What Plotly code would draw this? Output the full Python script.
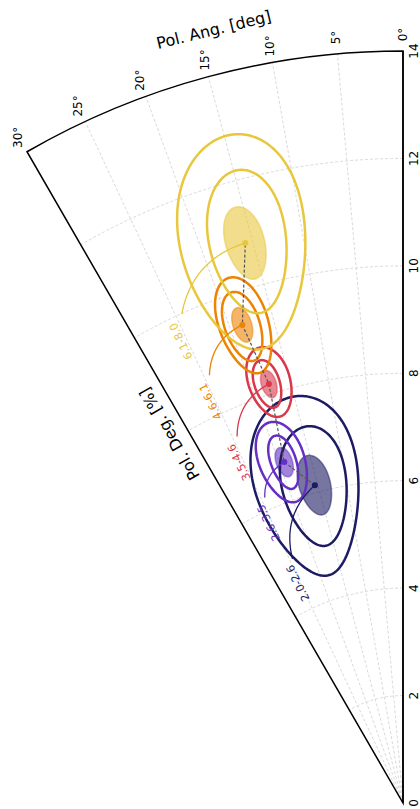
import numpy as np
import plotly.graph_objects as go

# ---- data -------------------------------------------------------------
bins = ["2.0-2.6", "2.6-3.5", "3.5-4.6", "4.6-6.1", "6.1-8.0"]
colors = ["#1c1b63", "#652fc4", "#d9384b", "#ec8305", "#e8c73d"]

# best-fit polarization degree [%] and angle [deg] per energy bin
pd_best = [6.14, 6.72, 8.19, 9.39, 10.83]
pa_best = [15.5, 19.2, 17.75, 18.57, 15.73]
# 1-sigma uncertainties
pd_sig = [0.57, 0.285, 0.263, 0.335, 0.695]
pa_sig = [2.73, 1.28, 0.97, 1.06, 1.91]

# inner confidence contour: centre PD, centre PA, half-widths, PD-PA correlation
c1_pd = [6.12, 6.72, 8.20, 9.36, 10.84]
c1_pa = [15.6, 19.3, 17.95, 18.6, 15.45]
c1_dpd = [1.12, 0.52, 0.46, 0.67, 1.34]
c1_dpa = [5.7, 2.0, 1.65, 2.0, 3.85]
c1_rho = [-0.15, 0.0, 0.0, 0.0, -0.15]
# outer confidence contour
c2_pd = [6.15, 6.73, 8.22, 9.37, 10.85]
c2_pa = [16.75, 19.5, 17.6, 18.4, 15.9]
c2_dpd = [1.69, 0.78, 0.67, 0.93, 2.0]
c2_dpa = [9.0, 3.6, 2.7, 2.8, 6.3]
c2_rho = [-0.12, 0.0, 0.0, 0.0, -0.17]

rad_ticks = [0, 2, 4, 6, 8, 10, 12, 14]
ang_ticks = [0, 5, 10, 15, 20, 25, 30]
R_MAX = 14
TH_MAX = 30


def rgba(hex_color, a):
    h = hex_color.lstrip("#")
    r, g, b = int(h[0:2], 16), int(h[2:4], 16), int(h[4:6], 16)
    return f"rgba({r},{g},{b},{a})"


def contour(pd0, pa0, dpd, dpa, rho, n=240):
    t = np.linspace(0, 2 * np.pi, n)
    r = pd0 + dpd * np.cos(t)
    th = pa0 + dpa * (rho * np.cos(t) + np.sqrt(1 - rho ** 2) * np.sin(t))
    return r, th


def to_xy(r, th):
    a = np.radians(th)
    return -r * np.sin(a), r * np.cos(a)


def to_polar(x, y):
    return np.hypot(x, y), np.degrees(np.arctan2(-x, y))


fig = go.Figure()

# 1-sigma filled ellipses
for i in range(len(bins)):
    r, th = contour(pd_best[i], pa_best[i], pd_sig[i], pa_sig[i], 0.0)
    fig.add_trace(go.Scatterpolar(
        r=r, theta=th, mode="lines", fill="toself",
        fillcolor=rgba(colors[i], 0.6),
        line=dict(color=rgba(colors[i], 0.5), width=1.5),
        hoverinfo="skip", showlegend=False))

# confidence contours
for i in range(len(bins)):
    for (cp, ca, dp, da, rh) in [
        (c1_pd[i], c1_pa[i], c1_dpd[i], c1_dpa[i], c1_rho[i]),
        (c2_pd[i], c2_pa[i], c2_dpd[i], c2_dpa[i], c2_rho[i]),
    ]:
        r, th = contour(cp, ca, dp, da, rh)
        fig.add_trace(go.Scatterpolar(
            r=r, theta=th, mode="lines",
            line=dict(color=colors[i], width=2.5),
            hoverinfo="skip", showlegend=False))

# dashed path through the best-fit points
fig.add_trace(go.Scatterpolar(
    r=pd_best, theta=pa_best, mode="lines",
    line=dict(color="#555555", width=1.2, dash="3px,2px"),
    hoverinfo="skip", showlegend=False))

# label leader lines (curved, arc-style)
LABEL_TH = 25.6
label_r = [4.54 + 1.25 * i for i in range(len(bins))]
for i in range(len(bins)):
    x0, y0 = to_xy(label_r[i] + 0.45, LABEL_TH - 1.25)
    x2, y2 = to_xy(pd_best[i], pa_best[i])
    mx, my = (x0 + x2) / 2, (y0 + y2) / 2
    f = 0.3
    cx, cy = mx - f * (y2 - y0), my + f * (x2 - x0)
    t = np.linspace(0, 1, 60)
    bx = (1 - t) ** 2 * x0 + 2 * (1 - t) * t * cx + t ** 2 * x2
    by = (1 - t) ** 2 * y0 + 2 * (1 - t) * t * cy + t ** 2 * y2
    r, th = to_polar(bx, by)
    fig.add_trace(go.Scatterpolar(
        r=r, theta=th, mode="lines",
        line=dict(color=colors[i], width=1.3),
        hoverinfo="skip", showlegend=False))

# best-fit points
fig.add_trace(go.Scatterpolar(
    r=pd_best, theta=pa_best, mode="markers",
    marker=dict(color=colors, size=6),
    hoverinfo="skip", showlegend=False))

# invisible cartesian frame sharing the wedge geometry, used for text
fig.add_trace(go.Scatter(x=[None], y=[None], xaxis="x", yaxis="y",
                         showlegend=False, hoverinfo="skip"))

W, H = 420, 809
ox, oy = 403, 803          # wedge origin in px
rad_px = 752               # outer radius in px
scale = rad_px / R_MAX     # px per unit
x_dom = [(ox - rad_px * 0.5) / W, ox / W]
y_dom = [(H - oy) / H, (H - oy + rad_px) / H]

grid = dict(gridcolor="#dadada", gridwidth=0.7, griddash="3px,2px")

fig.update_layout(
    width=W, height=H,
    margin=dict(l=0, r=0, t=0, b=0),
    paper_bgcolor="white",
    plot_bgcolor="rgba(0,0,0,0)",
    showlegend=False,
    font=dict(family="DejaVu Sans", color="black"),
    polar=dict(
        domain=dict(x=x_dom, y=y_dom),
        sector=[90, 90 + TH_MAX],
        bgcolor="white",
        radialaxis=dict(
            range=[0, R_MAX], tickvals=rad_ticks, angle=90, side="clockwise",
            showline=True, linecolor="black", linewidth=1.5, ticks="",
            tickfont=dict(size=12, color="black", family="DejaVu Sans"),
            layer="below traces", **grid),
        angularaxis=dict(
            rotation=90, direction="counterclockwise", thetaunit="degrees",
            tickvals=ang_ticks, showticklabels=False, ticks="",
            showline=True, linecolor="black", linewidth=1.5,
            layer="below traces", **grid),
    ),
    # full-page cartesian frame with the same origin and scale as the wedge
    xaxis=dict(domain=[0, 1], range=[-ox / scale, (W - ox) / scale],
               visible=False, fixedrange=True),
    yaxis=dict(domain=[0, 1], range=[-(H - oy) / scale, oy / scale],
               visible=False, fixedrange=True),
)

ann = []
# angular tick labels
for a in ang_ticks:
    x, y = to_xy(R_MAX + 0.31, a)
    ann.append(dict(x=x, y=y, xref="x", yref="y", text=f"{a}°", showarrow=False,
                    textangle=-90, font=dict(size=12, color="black"),
                    xanchor="center", yanchor="middle"))
# energy-bin labels
for i, b in enumerate(bins):
    x, y = to_xy(label_r[i], LABEL_TH)
    ann.append(dict(x=x, y=y, xref="x", yref="y", text=b, showarrow=False,
                    textangle=-(90 + LABEL_TH), font=dict(size=11, color=colors[i]),
                    xanchor="center", yanchor="middle"))
# axis titles
x, y = to_xy(14.82, 13.7)
ann.append(dict(x=x, y=y, xref="x", yref="y", text="Pol. Ang. [deg]", showarrow=False,
                textangle=-13.7, font=dict(size=16, color="black"),
                xanchor="center", yanchor="middle"))
x, y = to_xy(8.13, 32.27)
ann.append(dict(x=x, y=y, xref="x", yref="y", text="Pol. Deg. [%]", showarrow=False,
                textangle=-120, font=dict(size=16, color="black"),
                xanchor="center", yanchor="middle"))
fig.update_layout(annotations=ann)

fig.write_html("out.html")
